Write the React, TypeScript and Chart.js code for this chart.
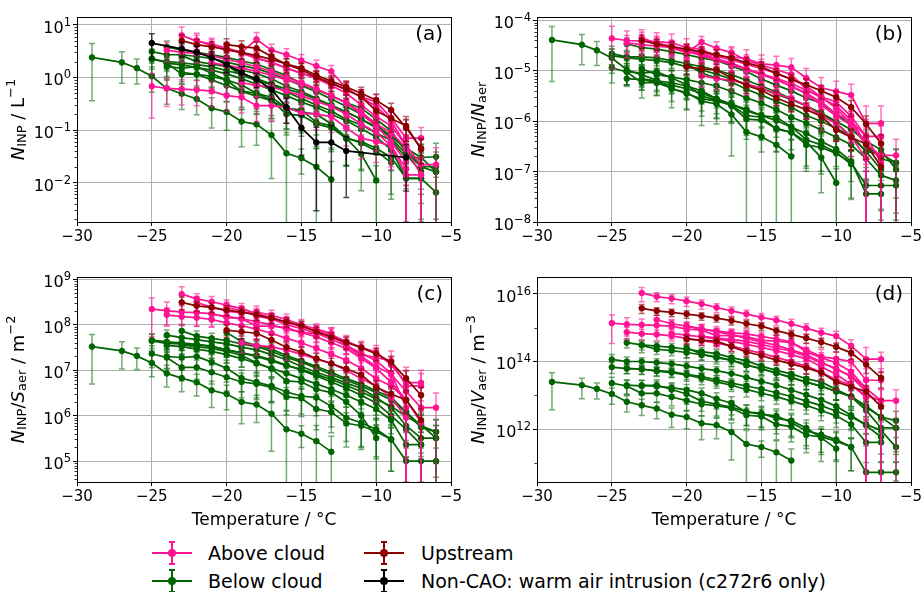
import React, { useEffect, useRef } from "react";
import { Chart, registerables } from "chart.js";
Chart.register(...registerables);

const FONT = "'DejaVu Sans', sans-serif";

// ---------------- axis ticks ----------------
const tempTicks = [-30, -25, -20, -15, -10, -5];
const majorsA = [1e-2, 1e-1, 1, 10];
const majorsB = [1e-8, 1e-7, 1e-6, 1e-5, 1e-4];
const majorsC = [1e5, 1e6, 1e7, 1e8, 1e9];
const majorsD = [1e12, 1e14, 1e16];

// ---------------- Below cloud flights ----------------
const G0start = -29;
const G0a = [2.4, null, 1.93, 1.5, 1.05, 0.62, 0.49, 0.39, 0.26, 0.22, 0.145, 0.128, 0.08, 0.036, 0.029, 0.02, 0.0115];
const G0b = [4.1e-5, null, 3.3e-5, 2.55e-5, 1.8e-5, 1.05e-5, 8.3e-6, 6.6e-6, 4.4e-6, 3.7e-6, 2.5e-6, 2.2e-6, 1.36e-6, 6.1e-7, 4.9e-7, 3.4e-7, 2.0e-7];
const G0c = [3.3e7, null, 2.65e7, 2.06e7, 1.44e7, 8.5e6, 6.7e6, 5.4e6, 3.6e6, 3.0e6, 2.0e6, 1.76e6, 1.1e6, 5e5, 4e5, 2.75e5, 1.6e5];
const G0d = [2.5e13, null, 2.0e13, 1.56e13, 1.1e13, 6.5e12, 5.1e12, 4.1e12, 2.7e12, 2.3e12, 1.5e12, 1.33e12, 8.3e11, 3.7e11, 3.0e11, 2.1e11, 1.2e11];
const G0err = [0.85, 0, 0.6, 0.5, 0.5, 0.5, 0.5, 0.5, 0.58, 0.55, 0.67, 0.6, 0.85, 1.5, 0.5, 1.2, 1.2];

const G1start = -23;
const G1a = [2.6, 2.0, 1.8, 1.6, 1.37, 1.19, 0.94, 0.68, 0.54, 0.4, 0.29, 0.22, 0.16, 0.115, 0.08, 0.043, 0.02, 0.016];
const G1b = [1.1e-5, 8.4e-6, 7.6e-6, 6.7e-6, 5.8e-6, 5e-6, 3.9e-6, 2.9e-6, 2.3e-6, 1.7e-6, 1.2e-6, 9.2e-7, 6.7e-7, 4.8e-7, 3.4e-7, 1.8e-7, 8.4e-8, 6.7e-8];
const G1c = [7.3e7, 5.6e7, 5.0e7, 4.5e7, 3.8e7, 3.3e7, 2.6e7, 1.9e7, 1.5e7, 1.1e7, 8e6, 6e6, 4.5e6, 3.2e6, 2.2e6, 1.2e6, 5.5e5, 4.4e5];
const G1d = [3.0e14, 2.3e14, 2.1e14, 1.84e14, 1.58e14, 1.37e14, 1.08e14, 7.8e13, 6.2e13, 4.6e13, 3.3e13, 2.5e13, 1.84e13, 1.3e13, 9.2e12, 4.9e12, 2.3e12, 1.8e12];
const G1err = [0.4, 0.3, 0.3, 0.3, 0.3, 0.3, 0.35, 0.35, 0.35, 0.35, 0.4, 0.4, 0.4, 0.45, 0.5, 0.6, 0.8, 0.9];

const G2start = -24;
const G2a = [3.8, 3.3, 3.0, 2.7, 2.4, 2.05, 1.8, 1.4, 1.09, 0.77, 0.58, 0.45, 0.33, 0.26, 0.16, 0.096, 0.038, 0.02, 0.02];
const G2b = [3.4e-5, 2.9e-5, 2.7e-5, 2.4e-5, 2.1e-5, 1.8e-5, 1.6e-5, 1.25e-5, 9.7e-6, 6.9e-6, 5.2e-6, 4e-6, 2.9e-6, 2.3e-6, 1.4e-6, 8.5e-7, 3.4e-7, 1.8e-7, 1.5e-7];
const G2c = [5.9e7, 5.2e7, 4.7e7, 4.2e7, 3.8e7, 3.2e7, 2.8e7, 2.2e7, 1.7e7, 1.2e7, 9e6, 7e6, 5.2e6, 4e6, 2.5e6, 1.5e6, 6e5, 3.2e5, 3.2e5];
const G2d = [3.6e14, 3.1e14, 2.85e14, 2.6e14, 2.3e14, 1.95e14, 1.7e14, 1.3e14, 1.04e14, 7.3e13, 5.5e13, 4.3e13, 3.1e13, 2.5e13, 1.5e13, 9.1e12, 3.6e12, 1.1e12, 1.1e12];
const G2err = [0.3, 0.3, 0.3, 0.3, 0.3, 0.3, 0.3, 0.35, 0.35, 0.35, 0.4, 0.4, 0.4, 0.45, 0.5, 0.6, 0.8, 0.9, 0.9];

const G3start = -25;
const G3a = [3.1, 2.7, 2.7, 2.5, 2.3, 1.96, 1.68, 1.47, 1.19, 0.91, 0.7, 0.53, 0.39, 0.28, 0.2, 0.13, 0.07, 0.035, 0.016];
const G3b = [2.2e-5, 1.9e-5, 1.9e-5, 1.8e-5, 1.6e-5, 1.4e-5, 1.2e-5, 1.04e-5, 8.4e-6, 6.5e-6, 5e-6, 3.8e-6, 2.8e-6, 2e-6, 1.4e-6, 9.2e-7, 5e-7, 2.5e-7, 1.1e-7];
const G3c = [4.4e7, 3.9e7, 3.8e7, 3.6e7, 3.3e7, 2.8e7, 2.4e7, 2.1e7, 1.7e7, 1.3e7, 1.0e7, 7.5e6, 5.5e6, 4e6, 2.8e6, 1.9e6, 1.0e6, 5e5, 2.3e5];
const G3d = [1.15e14, 1.0e14, 1.0e14, 9.3e13, 8.5e13, 7.3e13, 6.2e13, 5.4e13, 4.4e13, 3.4e13, 2.6e13, 2.0e13, 1.44e13, 1.04e13, 7.4e12, 4.8e12, 2.6e12, 1.3e12, 5.9e11];
const G3err = [0.4, 0.35, 0.3, 0.3, 0.3, 0.3, 0.3, 0.3, 0.35, 0.35, 0.35, 0.4, 0.4, 0.45, 0.5, 0.55, 0.6, 0.75, 0.9];

const G4start = -24;
const G4a = [1.85, 1.75, 1.54, 1.38, 1.17, 0.95, 0.74, 0.58, 0.45, 0.34, 0.27, 0.2, 0.15, 0.106, 0.074, 0.042, 0.012, 0.012];
const G4b = [7e-6, 6.7e-6, 5.9e-6, 5.2e-6, 4.4e-6, 3.6e-6, 2.8e-6, 2.2e-6, 1.7e-6, 1.3e-6, 1.03e-6, 7.6e-7, 5.7e-7, 4e-7, 2.8e-7, 1.6e-7, 3.6e-8, 3.6e-8];
const G4c = [3.5e7, 3.3e7, 2.9e7, 2.6e7, 2.2e7, 1.8e7, 1.4e7, 1.1e7, 8.5e6, 6.5e6, 5e6, 3.8e6, 2.8e6, 2e6, 1.4e6, 8e5, 2.3e5, 2.3e5];
const G4d = [6.3e13, 6e13, 5.2e13, 4.7e13, 4e13, 3.2e13, 2.5e13, 2e13, 1.5e13, 1.16e13, 9.2e12, 6.8e12, 5.1e12, 3.6e12, 2.5e12, 1.4e12, 4.1e11, 4.1e11];
const G4err = [0.3, 0.3, 0.3, 0.3, 0.35, 0.35, 0.35, 0.35, 0.4, 0.4, 0.4, 0.45, 0.45, 0.5, 0.55, 0.6, 0.85, 0.85];

const G5start = -25;
const G5a = [2.3, 1.9, 1.15, 1.15, 0.9, 0.7, 0.55, 0.5, 0.42, 0.26, 0.24, 0.14, 0.12, 0.068, 0.06, 0.045, 0.03, 0.012, 0.012, 0.0065];
const G5b = [1.15e-5, 9.5e-6, 5.8e-6, 5.8e-6, 4.5e-6, 3.5e-6, 2.8e-6, 2.5e-6, 2.1e-6, 1.3e-6, 1.2e-6, 7e-7, 6e-7, 3.4e-7, 3e-7, 2.3e-7, 1.5e-7, 5.3e-8, 5.3e-8, 5.3e-8];
const G5c = [2.3e7, 1.9e7, 1.15e7, 1.15e7, 9e6, 7e6, 5.5e6, 5e6, 4.2e6, 2.6e6, 2.4e6, 1.4e6, 1.2e6, 6.8e5, 6e5, 4.5e5, 3e5, 1e5, 1e5, 1e5];
const G5d = [2.3e13, 1.9e13, 1.15e13, 1.15e13, 9e12, 7e12, 5.5e12, 5e12, 4.2e12, 2.6e12, 2.4e12, 1.4e12, 1.2e12, 6.8e11, 6e11, 4.5e11, 3e11, 5.4e10, 5.4e10, 5.4e10];
const G5err = [0.5, 0.45, 0.5, 0.45, 0.45, 0.5, 0.55, 0.55, 0.55, 0.6, 0.6, 0.65, 0.65, 0.7, 0.7, 0.75, 0.8, 0.95, 0.95, 0.95];

const G6start = -20;
const G6a = [1.7, 1.1, 0.88, 0.73, 0.53, 0.4, 0.3, 0.23, 0.16, 0.125, 0.088, 0.063, 0.03, 0.03, 0.031];
const G6b = [1.4e-5, 9e-6, 7.2e-6, 6e-6, 4.3e-6, 3.3e-6, 2.5e-6, 1.9e-6, 1.3e-6, 1.0e-6, 7.2e-7, 5.2e-7, 2.5e-7, 2.2e-7, 1.5e-7];
const G6c = [6.7e7, 4.3e7, 3.5e7, 2.9e7, 2.1e7, 1.6e7, 1.2e7, 9e6, 6.5e6, 5e6, 3.5e6, 2.5e6, 1.2e6, 6e5, 4.4e5];
const G6d = [2.55e14, 1.65e14, 1.3e14, 1.1e14, 8e13, 6e13, 4.5e13, 3.5e13, 2.4e13, 1.9e13, 1.3e13, 9.5e12, 4.5e12, 2.3e12, 1.1e12];
const G6err = [0.5, 0.35, 0.35, 0.35, 0.35, 0.35, 0.4, 0.4, 0.4, 0.45, 0.45, 0.5, 0.6, 0.75, 0.8];

const G7start = -24;
const G7a = [1.6, 1.5, 1.6, 1.2, 0.88, 0.54, 0.44, 0.36, 0.26, 0.22, 0.2, 0.13, 0.072, 0.056, 0.04, 0.024];
const G7b = [9.6e-6, 9e-6, 9.6e-6, 7.2e-6, 5.3e-6, 3.2e-6, 2.6e-6, 2.2e-6, 1.6e-6, 1.3e-6, 1.2e-6, 7.8e-7, 4.3e-7, 3.4e-7, 2.4e-7, 1.4e-7];
const G7c = [2e7, 1.9e7, 2e7, 1.5e7, 1.1e7, 6.7e6, 5.5e6, 4.5e6, 3.3e6, 2.7e6, 2.5e6, 1.6e6, 9e5, 7e5, 5e5, 3e5];
const G7d = [2e13, 1.9e13, 2e13, 1.5e13, 1.1e13, 6.8e12, 5.5e12, 4.5e12, 3.3e12, 2.75e12, 2.5e12, 1.6e12, 9e11, 7e11, 5e11, 3e11];
const G7err = [0.45, 0.45, 0.45, 0.45, 0.5, 0.5, 0.55, 0.55, 0.6, 0.6, 0.6, 0.65, 0.7, 0.7, 0.75, 0.8];

const G8start = -23;
const G8a = [1.25, 1.15, 1.05, 0.9, 0.72, 0.5, 0.37, 0.2, 0.19, 0.13, 0.11, 0.07, 0.035, 0.011];
const G8b = [6.9e-6, 6.3e-6, 5.8e-6, 5e-6, 4e-6, 2.8e-6, 2e-6, 1.1e-6, 1.05e-6, 7.2e-7, 6e-7, 3.9e-7, 1.9e-7, 6e-8];
const G8c = [3.6e7, 3.3e7, 3.0e7, 2.6e7, 2.1e7, 1.45e7, 1.07e7, 5.8e6, 5.5e6, 3.8e6, 3.2e6, 2e6, 1e6, 3.2e5];
const G8d = [2e13, 1.85e13, 1.7e13, 1.45e13, 1.15e13, 8e12, 5.9e12, 3.2e12, 3e12, 2.1e12, 1.8e12, 1.1e12, 5.6e11, 2.7e11];
const G8err = [0.4, 0.4, 0.4, 0.45, 0.45, 0.5, 0.55, 0.6, 0.6, 0.65, 0.65, 0.7, 0.8, 0.9];

const G9start = -25;
const G9a = [2.2, 2.0, 1.9, 1.75, 1.6, 1.35, 1.15, 0.95, 0.75, 0.6, 0.5, 0.38, 0.3, 0.22, 0.16, 0.11, 0.075, 0.045, 0.03, 0.016];
const G9b = [2e-5, 1.8e-5, 1.7e-5, 1.6e-5, 1.45e-5, 1.2e-5, 1.04e-5, 8.6e-6, 6.8e-6, 5.4e-6, 4.5e-6, 3.4e-6, 2.7e-6, 2e-6, 1.45e-6, 1e-6, 6.8e-7, 4e-7, 2.7e-7, 1.1e-7];
const G9c = [4.6e7, 4.2e7, 4.0e7, 3.7e7, 3.4e7, 2.8e7, 2.4e7, 2.0e7, 1.6e7, 1.26e7, 1.05e7, 8e6, 6.3e6, 4.6e6, 3.4e6, 2.3e6, 1.6e6, 9.5e5, 6.3e5, 3.2e5];
const G9d = [6.8e13, 6.2e13, 5.9e13, 5.4e13, 5e13, 4.2e13, 3.6e13, 2.9e13, 2.3e13, 1.9e13, 1.55e13, 1.2e13, 9.3e12, 6.8e12, 5e12, 3.4e12, 2.3e12, 1.4e12, 9.3e11, 3e11];
const G9err = [0.35, 0.3, 0.3, 0.3, 0.3, 0.3, 0.3, 0.35, 0.35, 0.35, 0.4, 0.4, 0.4, 0.45, 0.5, 0.55, 0.6, 0.7, 0.8, 0.9];

// ---------------- Above cloud flights ----------------
const P1start = -23;
const P1a = [6.3, 4.9, 4.3, 3.6, 3.0, 2.35, 1.9, 1.5, 1.2, 1.0, 0.78, 0.58, 0.43, 0.34, 0.17, 0.07, 0.07];
const P1b = [4.5e-5, 3.5e-5, 3.1e-5, 2.6e-5, 2.15e-5, 1.7e-5, 1.33e-5, 1.08e-5, 8.6e-6, 7.1e-6, 5.6e-6, 4.1e-6, 3.05e-6, 2.4e-6, 1.25e-6, 5e-7, 5e-7];
const P1c = [4.7e8, 3.7e8, 3.2e8, 2.7e8, 2.25e8, 1.75e8, 1.4e8, 1.13e8, 9e7, 7.4e7, 5.9e7, 4.3e7, 3.2e7, 2.5e7, 1.3e7, 5.3e6, 5.3e6];
const P1d = [1.05e16, 8.2e15, 7.2e15, 6.0e15, 5.0e15, 3.9e15, 3.1e15, 2.5e15, 2.0e15, 1.65e15, 1.3e15, 9.6e14, 7.1e14, 5.6e14, 2.9e14, 1.17e14, 1.17e14];
const P1err = [0.45, 0.3, 0.3, 0.3, 0.3, 0.3, 0.3, 0.3, 0.3, 0.3, 0.35, 0.35, 0.35, 0.4, 0.5, 1.2, 0.6];

const P2start = -25;
const P2a = [0.68, 0.62, 0.6, 0.58, 0.55, 0.45, 0.42, 0.29, 0.29, 0.27, 0.21, 0.2, 0.18, 0.11, 0.07, 0.06, 0.05, 0.014, 0.014];
const P2b = [4.4e-5, 4.0e-5, 3.9e-5, 3.8e-5, 3.6e-5, 2.9e-5, 2.7e-5, 1.9e-5, 1.9e-5, 1.75e-5, 1.37e-5, 1.3e-5, 1.17e-5, 7.2e-6, 4.6e-6, 3.9e-6, 3.3e-6, 9.1e-7, 9.1e-7];
const P2c = [2.2e8, 2.05e8, 1.9e8, 1.85e8, 1.75e8, 1.45e8, 1.35e8, 9.3e7, 9.3e7, 8.6e7, 6.7e7, 6.4e7, 5.8e7, 3.5e7, 2.2e7, 1.9e7, 1.6e7, 4.5e6, 4.5e6];
const P2d = [1.35e15, 1.25e15, 1.2e15, 1.16e15, 1.1e15, 9e14, 8.4e14, 5.8e14, 5.8e14, 5.4e14, 4.2e14, 4e14, 3.6e14, 2.2e14, 1.4e14, 1.2e14, 1e14, 2.8e13, 2.8e13];
const P2err = [0.75, 0.55, 0.5, 0.5, 0.5, 0.5, 0.5, 0.5, 0.5, 0.5, 0.5, 0.5, 0.5, 0.55, 0.6, 0.6, 0.65, 1.2, 1.2];

const P3start = -22;
const P3a = [5.1, 4.0, 3.3, 3.0, 5.3, 3.3, 2.7, 2.1, 1.65, 1.3, 0.62, 0.42, 0.28, 0.15, 0.05];
const P3b = [3.6e-5, 2.8e-5, 2.3e-5, 3.7e-5, 2.8e-5, 2.3e-5, 1.6e-5, 1.3e-5, 1.05e-5, 8.5e-6, 4.3e-6, 2.9e-6, 2e-6, 1.05e-6, 3.5e-7];
const P3c = [3.1e8, 2.4e8, 2.0e8, 1.8e8, 1.9e8, 1.6e8, 1.3e8, 1.0e8, 8e7, 6.5e7, 3.5e7, 2.4e7, 1.6e7, 8.5e6, 1.5e6];
const P3d = [1.7e15, 1.3e15, 1.1e15, 9e14, 8e14, 7e14, 6.5e14, 5.5e14, 4.6e14, 3.8e14, 1.9e14, 1.3e14, 9e13, 5e13, 1.6e13];
const P3err = [0.35, 0.3, 0.3, 0.3, 0.35, 0.3, 0.3, 0.3, 0.3, 0.3, 0.35, 0.4, 0.45, 0.5, 1.1];

const P4start = -20;
const P4a = [3.5, 2.9, 2.3, 1.95, 1.5, 1.2, 0.95, 0.7, 0.5, 0.3, 0.18, 0.12, 0.05, 0.022, 0.022];
const P4b = [2.45e-5, 2.0e-5, 1.6e-5, 1.37e-5, 1.05e-5, 8.4e-6, 6.7e-6, 4.9e-6, 3.5e-6, 2.1e-6, 1.26e-6, 8.4e-7, 3.5e-7, 2.1e-7, 2.1e-7];
const P4c = [2.4e8, 2.0e8, 1.55e8, 1.33e8, 1.0e8, 8.2e7, 6.5e7, 4.8e7, 3.4e7, 2e7, 1.2e7, 8.2e6, 3.4e6, 1.5e6, 1.5e6];
const P4d = [1.1e15, 9.3e14, 7.4e14, 6.2e14, 4.8e14, 3.8e14, 3e14, 2.2e14, 1.6e14, 9.6e13, 5.8e13, 3.8e13, 1.6e13, 7e12, 7e12];
const P4err = [0.3, 0.3, 0.3, 0.3, 0.3, 0.3, 0.35, 0.35, 0.35, 0.4, 0.45, 0.5, 0.6, 1.1, 1.1];

const P5start = -24;
const P5a = [3.3, 3.0, 2.85, 2.6, 2.2, 1.9, 1.6, 1.3, 1.0, 0.8, 0.6, 0.45, 0.33, 0.22, 0.13, 0.09, 0.045, 0.014];
const P5b = [3.6e-5, 3.3e-5, 3.1e-5, 2.9e-5, 2.4e-5, 2.1e-5, 1.76e-5, 1.43e-5, 1.1e-5, 8.8e-6, 6.6e-6, 5e-6, 3.6e-6, 2.4e-6, 1.4e-6, 1e-6, 5e-7, 1.5e-7];
const P5c = [1.65e8, 1.5e8, 1.43e8, 1.3e8, 1.1e8, 9.5e7, 8e7, 6.5e7, 5e7, 4e7, 3e7, 2.25e7, 1.65e7, 1.1e7, 6.5e6, 4.5e6, 2.25e6, 7e5];
const P5d = [7.3e14, 6.6e14, 6.3e14, 5.7e14, 4.8e14, 4.2e14, 3.5e14, 2.9e14, 2.2e14, 1.76e14, 1.32e14, 9.9e13, 7.3e13, 4.8e13, 2.9e13, 2e13, 9.9e12, 7e12];
const P5err = [0.4, 0.35, 0.35, 0.3, 0.3, 0.3, 0.3, 0.3, 0.3, 0.35, 0.35, 0.4, 0.4, 0.45, 0.5, 0.6, 0.8, 1.2];

const P6start = -21;
const P6a = [1.9, 1.7, 1.5, 1.3, 1.1, 0.9, 0.75, 0.6, 0.45, 0.33, 0.2, 0.12, 0.06, 0.025];
const P6b = [2.85e-5, 2.55e-5, 2.25e-5, 1.95e-5, 1.65e-5, 1.35e-5, 1.1e-5, 9e-6, 6.8e-6, 5e-6, 3e-6, 1.8e-6, 9e-7, 3.8e-7];
const P6c = [1.7e8, 1.53e8, 1.35e8, 1.17e8, 9.9e7, 8.1e7, 6.8e7, 5.4e7, 4e7, 3e7, 1.8e7, 1.1e7, 5.4e6, 2.25e6];
const P6d = [6.7e14, 6e14, 5.3e14, 4.6e14, 3.9e14, 3.2e14, 2.6e14, 2.1e14, 1.6e14, 1.2e14, 7e13, 4.2e13, 2.1e13, 8.8e12];
const P6err = [0.3, 0.3, 0.3, 0.3, 0.3, 0.3, 0.35, 0.35, 0.35, 0.4, 0.45, 0.5, 0.6, 1.1];

const P7start = -19;
const P7a = [0.8, 0.7, 0.65, 0.55, 0.45, 0.35, 0.28, 0.2, 0.13, 0.09, 0.05, 0.018];
const P7b = [8e-6, 7e-6, 6.5e-6, 5.5e-6, 4.5e-6, 3.5e-6, 2.8e-6, 2e-6, 1.3e-6, 9e-7, 5e-7, 1.8e-7];
const P7c = [4e7, 3.5e7, 3.25e7, 2.75e7, 2.25e7, 1.75e7, 1.4e7, 1e7, 6.5e6, 4.5e6, 2.5e6, 9e5];
const P7d = [5.6e14, 4.9e14, 4.5e14, 3.9e14, 3.2e14, 2.5e14, 2e14, 1.4e14, 9e13, 6.3e13, 3.5e13, 1.3e13];
const P7err = [0.4, 0.4, 0.4, 0.4, 0.4, 0.4, 0.45, 0.45, 0.5, 0.55, 0.6, 1.2];

// ---------------- Upstream flights ----------------
const U1start = -23;
const U1a = [5.0, 4.2, 3.8, 3.4, 3.0, 2.6, 2.2, 1.8, 1.5, 1.1, 0.85, 0.66, 0.5, 0.37, 0.24, 0.11, 0.045];
const U1b = [4.0e-5, 3.4e-5, 3.0e-5, 2.7e-5, 2.4e-5, 2.1e-5, 1.8e-5, 1.44e-5, 1.2e-5, 8.8e-6, 6.8e-6, 5.3e-6, 4e-6, 3e-6, 1.9e-6, 8.8e-7, 3.6e-7];
const U1c = [3.1e8, 2.6e8, 2.4e8, 2.1e8, 1.9e8, 1.65e8, 1.4e8, 1.15e8, 9.5e7, 7e7, 5.3e7, 4.1e7, 3.1e7, 2.3e7, 1.5e7, 6.6e6, 2.8e6];
const U1d = [3.7e15, 3.1e15, 2.8e15, 2.5e15, 2.2e15, 1.9e15, 1.6e15, 1.3e15, 1.1e15, 8.1e14, 6.3e14, 4.9e14, 3.7e14, 2.7e14, 1.8e14, 8.1e13, 3.3e13];
const U1err = [0.3, 0.25, 0.25, 0.25, 0.25, 0.25, 0.25, 0.25, 0.25, 0.25, 0.25, 0.3, 0.3, 0.3, 0.35, 0.45, 0.5];

const U2start = -20;
const U2a = [4.2, 3.85, 3.6, 2.5, 1.76, 1.4, 1.0, 0.77, 0.59, 0.43, 0.23, 0.165, 0.12, 0.043];
const U2b = [1.2e-5, 1.1e-5, 1.04e-5, 7.2e-6, 5.1e-6, 4.1e-6, 2.9e-6, 2.2e-6, 1.7e-6, 1.25e-6, 6.7e-7, 4.8e-7, 3.5e-7, 1.25e-7];
const U2c = [7.6e7, 7e7, 6.5e7, 4.6e7, 3.2e7, 2.5e7, 1.8e7, 1.4e7, 1.07e7, 7.9e6, 4.2e6, 3.0e6, 2.2e6, 7.9e5];
const U2d = [4.6e14, 4.2e14, 4.0e14, 2.75e14, 1.9e14, 1.5e14, 1.1e14, 8.5e13, 6.5e13, 4.7e13, 2.5e13, 1.8e13, 1.3e13, 4.7e12];
const U2err = [0.3, 0.3, 0.3, 0.3, 0.3, 0.3, 0.3, 0.3, 0.35, 0.35, 0.4, 0.45, 0.5, 0.6];

// ---------------- Non-CAO (c272r6), panel (a) only ----------------
const K1start = -25;
const K1a = [4.5, null, 3.5, 3.0, 2.4, 1.76, 1.23, 0.92, 0.59, 0.27, 0.11, 0.058, 0.058, 0.04, null, null, null, 0.03];
const K1err = [0.5, 0, 0.3, 0.3, 0.3, 0.3, 0.3, 0.3, 0.35, 0.5, 0.7, 0.95, 1.1, 0.87, 0, 0, 0, 0.77];

// ---------------- styling ----------------
const COLORS: Record<string, string> = {
  above: "#ff1493",
  below: "#006400",
  upstream: "#8b0000",
  noncao: "#000000",
};
const ERR_COLORS: Record<string, string> = {
  above: "rgba(255,20,147,0.6)",
  below: "rgba(0,100,0,0.55)",
  upstream: "rgba(139,0,0,0.6)",
  noncao: "rgba(0,0,0,0.7)",
};

type Flight = {
  cat: string;
  start: number;
  a: (number | null)[] | null;
  b: (number | null)[] | null;
  c: (number | null)[] | null;
  d: (number | null)[] | null;
  err: number[];
};

// order: first entries are drawn on top
const flights: Flight[] = [
  { cat: "noncao", start: K1start, a: K1a, b: null, c: null, d: null, err: K1err },
  { cat: "upstream", start: U1start, a: U1a, b: U1b, c: U1c, d: U1d, err: U1err },
  { cat: "upstream", start: U2start, a: U2a, b: U2b, c: U2c, d: U2d, err: U2err },
  { cat: "above", start: P1start, a: P1a, b: P1b, c: P1c, d: P1d, err: P1err },
  { cat: "above", start: P2start, a: P2a, b: P2b, c: P2c, d: P2d, err: P2err },
  { cat: "above", start: P3start, a: P3a, b: P3b, c: P3c, d: P3d, err: P3err },
  { cat: "above", start: P4start, a: P4a, b: P4b, c: P4c, d: P4d, err: P4err },
  { cat: "above", start: P5start, a: P5a, b: P5b, c: P5c, d: P5d, err: P5err },
  { cat: "above", start: P6start, a: P6a, b: P6b, c: P6c, d: P6d, err: P6err },
  { cat: "above", start: P7start, a: P7a, b: P7b, c: P7c, d: P7d, err: P7err },
  { cat: "below", start: G0start, a: G0a, b: G0b, c: G0c, d: G0d, err: G0err },
  { cat: "below", start: G1start, a: G1a, b: G1b, c: G1c, d: G1d, err: G1err },
  { cat: "below", start: G2start, a: G2a, b: G2b, c: G2c, d: G2d, err: G2err },
  { cat: "below", start: G3start, a: G3a, b: G3b, c: G3c, d: G3d, err: G3err },
  { cat: "below", start: G4start, a: G4a, b: G4b, c: G4c, d: G4d, err: G4err },
  { cat: "below", start: G5start, a: G5a, b: G5b, c: G5c, d: G5d, err: G5err },
  { cat: "below", start: G6start, a: G6a, b: G6b, c: G6c, d: G6d, err: G6err },
  { cat: "below", start: G7start, a: G7a, b: G7b, c: G7c, d: G7d, err: G7err },
  { cat: "below", start: G8start, a: G8a, b: G8b, c: G8c, d: G8d, err: G8err },
  { cat: "below", start: G9start, a: G9a, b: G9b, c: G9c, d: G9d, err: G9err },
];

type Seg = [string, string];
type PanelCfg = {
  key: "a" | "b" | "c" | "d";
  label: string;
  left: number;
  top: number;
  width: number;
  height: number;
  yMin: number;
  yMax: number;
  majors: number[];
  minorSubs: boolean;
  title: Seg[];
  xTitle: boolean;
};

const panels: PanelCfg[] = [
  {
    key: "a", label: "(a)", left: 0, top: 0, width: 464, height: 250,
    yMin: 1.78e-3, yMax: 14.1, majors: majorsA, minorSubs: true,
    title: [["i", "N"], ["sub", "INP"], ["n", " / L"], ["sup", "\u22121"]], xTitle: false,
  },
  {
    key: "b", label: "(b)", left: 460, top: 0, width: 464, height: 250,
    yMin: 1e-8, yMax: 1.17e-4, majors: majorsB, minorSubs: true,
    title: [["i", "N"], ["sub", "INP"], ["n", "/"], ["i", "N"], ["sub", "aer"]], xTitle: false,
  },
  {
    key: "c", label: "(c)", left: 0, top: 260, width: 464, height: 272,
    yMin: 3.47e4, yMax: 1.12e9, majors: majorsC, minorSubs: true,
    title: [["i", "N"], ["sub", "INP"], ["n", "/"], ["i", "S"], ["sub", "aer"], ["n", " / m"], ["sup", "\u22122"]], xTitle: true,
  },
  {
    key: "d", label: "(d)", left: 460, top: 260, width: 464, height: 272,
    yMin: 2.8e10, yMax: 3.1e16, majors: majorsD, minorSubs: false,
    title: [["i", "N"], ["sub", "INP"], ["n", "/"], ["i", "V"], ["sub", "aer"], ["n", " / m"], ["sup", "\u22123"]], xTitle: true,
  },
];

const AREA_LEFT = 77;
const AREA_RIGHT = 451;
const AREA_TOP = 17;
const AREA_BOTTOM = 222;

function minusFmt(v: number): string {
  return v < 0 ? "\u2212" + Math.abs(v) : String(v);
}

function makeDecor(p: PanelCfg) {
  return {
    id: "decor_" + p.key,
    beforeDatasetDraw(chart: any, args: any) {
      const ds: any = chart.data.datasets[args.index];
      const { ctx, chartArea } = chart;
      const xs = chart.scales.x;
      const ys = chart.scales.y;
      ctx.save();
      ctx.beginPath();
      ctx.rect(chartArea.left, chartArea.top, chartArea.right - chartArea.left, chartArea.bottom - chartArea.top);
      ctx.clip();
      ctx.strokeStyle = ds.errColor;
      ctx.lineWidth = 1.5;
      ds.data.forEach((pt: any, i: number) => {
        if (pt.y == null) return;
        const e = ds.errs[i];
        if (!e) return;
        const x = xs.getPixelForValue(pt.x);
        const hi = pt.y * (1 + e);
        const lo = pt.y * (1 - e);
        const yHi = ys.getPixelForValue(hi);
        const yLo = lo > 0 ? ys.getPixelForValue(lo) : chartArea.bottom + 10;
        ctx.beginPath();
        ctx.moveTo(x, yHi);
        ctx.lineTo(x, yLo);
        ctx.moveTo(x - 3, yHi);
        ctx.lineTo(x + 3, yHi);
        if (lo > 0) {
          ctx.moveTo(x - 3, yLo);
          ctx.lineTo(x + 3, yLo);
        }
        ctx.stroke();
      });
      ctx.restore();
    },
    afterDraw(chart: any) {
      const { ctx, chartArea } = chart;
      const ys = chart.scales.y;
      const L = chartArea.left, R = chartArea.right, T = chartArea.top, B = chartArea.bottom;
      ctx.save();
      // minor ticks
      ctx.strokeStyle = "#000";
      ctx.lineWidth = 0.8;
      const n0 = Math.floor(Math.log10(p.yMin));
      const n1 = Math.ceil(Math.log10(p.yMax));
      ctx.beginPath();
      for (let n = n0; n <= n1; n++) {
        const subs = p.minorSubs ? [2, 3, 4, 5, 6, 7, 8, 9] : (n % 2 !== 0 ? [1] : []);
        for (const k of subs) {
          const v = k * Math.pow(10, n);
          if (v <= p.yMin || v >= p.yMax) continue;
          const y = Math.round(ys.getPixelForValue(v)) + 0.5;
          ctx.moveTo(L - 2.5, y);
          ctx.lineTo(L, y);
        }
      }
      ctx.stroke();
      // frame
      ctx.strokeStyle = "#000";
      ctx.lineWidth = 1;
      ctx.strokeRect(Math.round(L) + 0.5, Math.round(T) + 0.5, Math.round(R - L), Math.round(B - T));
      // y tick labels (10^n)
      ctx.fillStyle = "#000";
      ctx.textBaseline = "alphabetic";
      for (const v of p.majors) {
        const n = Math.round(Math.log10(v));
        const y = ys.getPixelForValue(v);
        const expStr = minusFmt(n);
        ctx.font = `11.5px ${FONT}`;
        const ew = ctx.measureText(expStr).width;
        ctx.font = `16px ${FONT}`;
        const bw = ctx.measureText("10").width;
        const xr = L - 6;
        ctx.textAlign = "left";
        ctx.fillText("10", xr - ew - bw, y + 8);
        ctx.font = `11.5px ${FONT}`;
        ctx.fillText(expStr, xr - ew, y + 1);
      }
      // y title
      const F = 18;
      const fonts: Record<string, string> = {
        n: `${F}px ${FONT}`,
        i: `italic ${F}px ${FONT}`,
        sub: `${Math.round(F * 0.7)}px ${FONT}`,
        sup: `${Math.round(F * 0.7)}px ${FONT}`,
      };
      const shift: Record<string, number> = { n: 0, i: 0, sub: 0.22 * F, sup: -0.4 * F };
      let total = 0;
      for (const [k, s] of p.title) {
        ctx.font = fonts[k];
        total += ctx.measureText(s).width;
      }
      ctx.translate(19, (T + B) / 2);
      ctx.rotate(-Math.PI / 2);
      ctx.textBaseline = "middle";
      ctx.textAlign = "left";
      let x = -total / 2;
      for (const [k, s] of p.title) {
        ctx.font = fonts[k];
        ctx.fillText(s, x, shift[k]);
        x += ctx.measureText(s).width;
      }
      ctx.setTransform(1, 0, 0, 1, 0, 0);
      // panel label
      ctx.font = `20px ${FONT}`;
      ctx.textAlign = "right";
      ctx.textBaseline = "middle";
      ctx.fillText(p.label, R - 8, T + 18);
      ctx.restore();
    },
  };
}

function Panel({ p }: { p: PanelCfg }) {
  const ref = useRef<HTMLCanvasElement | null>(null);
  useEffect(() => {
    if (!ref.current) return;
    const datasets: any[] = [];
    flights.forEach((f) => {
      const vals = f[p.key];
      if (!vals) return;
      datasets.push({
        data: vals.map((v, i) => ({ x: f.start + i, y: v })),
        borderColor: COLORS[f.cat],
        backgroundColor: COLORS[f.cat],
        pointBackgroundColor: COLORS[f.cat],
        pointBorderColor: COLORS[f.cat],
        pointRadius: 2.8,
        pointBorderWidth: 1,
        borderWidth: 1.7,
        tension: 0,
        spanGaps: true,
        errColor: ERR_COLORS[f.cat],
        errs: f.err,
      });
    });
    const chart = new Chart(ref.current, {
      type: "line",
      data: { datasets },
      plugins: [makeDecor(p)],
      options: {
        animation: false,
        responsive: false,
        events: [],
        layout: { padding: { top: AREA_TOP, left: 0, right: p.width - AREA_RIGHT, bottom: 0 } },
        plugins: { legend: { display: false }, tooltip: { enabled: false } },
        scales: {
          x: {
            type: "linear",
            min: -30,
            max: -5,
            afterBuildTicks: (s: any) => {
              s.ticks = tempTicks.map((v) => ({ value: v }));
            },
            afterFit: (s: any) => {
              s.height = p.height - AREA_BOTTOM;
              s.paddingLeft = 0;
              s.paddingRight = 0;
            },
            border: { display: false },
            grid: { color: "#b0b0b0", lineWidth: 1, tickColor: "#000", tickLength: 4, drawTicks: true },
            ticks: {
              font: { size: 15, family: FONT },
              color: "#000",
              padding: 2,
              maxRotation: 0,
              autoSkip: false,
              callback: (v: any) => minusFmt(Number(v)),
            },
            title: {
              display: p.xTitle,
              text: "Temperature / \u00b0C",
              font: { size: 17, family: FONT },
              color: "#000",
              padding: { top: 0, bottom: 1 },
            },
          },
          y: {
            type: "logarithmic",
            min: p.yMin,
            max: p.yMax,
            afterBuildTicks: (s: any) => {
              s.ticks = p.majors.map((v) => ({ value: v }));
            },
            afterFit: (s: any) => {
              s.width = AREA_LEFT;
              s.paddingTop = 0;
              s.paddingBottom = 0;
            },
            border: { display: false },
            grid: { color: "#b0b0b0", lineWidth: 1, tickColor: "#000", tickLength: 4, drawTicks: true },
            ticks: { display: false },
          },
        },
      } as any,
    });
    return () => chart.destroy();
  }, []);
  return (
    <canvas
      ref={ref}
      width={p.width}
      height={p.height}
      style={{ position: "absolute", left: p.left, top: p.top, width: p.width, height: p.height }}
    />
  );
}

const legendItems = [
  { cat: "above", text: "Above cloud", mx: 151, tx: 208, cy: 553 },
  { cat: "upstream", text: "Upstream", mx: 363, tx: 421, cy: 553 },
  { cat: "below", text: "Below cloud", mx: 151, tx: 208, cy: 581 },
  { cat: "noncao", text: "Non-CAO: warm air intrusion (c272r6 only)", mx: 363, tx: 421, cy: 581 },
];

function LegendMarker({ color, left, top }: { color: string; left: number; top: number }) {
  return (
    <svg width={42} height={26} style={{ position: "absolute", left, top }}>
      <line x1={1} y1={13} x2={41} y2={13} stroke={color} strokeWidth={2.2} />
      <line x1={21} y1={2} x2={21} y2={24} stroke={color} strokeWidth={2} />
      <line x1={18} y1={2} x2={24} y2={2} stroke={color} strokeWidth={2} />
      <line x1={18} y1={24} x2={24} y2={24} stroke={color} strokeWidth={2} />
      <circle cx={21} cy={13} r={4} fill={color} />
    </svg>
  );
}

export default function App() {
  return (
    <div
      style={{
        position: "fixed",
        left: 0,
        top: 0,
        width: 924,
        height: 592,
        background: "#fff",
        overflow: "hidden",
        fontFamily: FONT,
      }}
    >
      {panels.map((p) => (
        <Panel key={p.key} p={p} />
      ))}
      {legendItems.map((it) => (
        <React.Fragment key={it.text}>
          <LegendMarker color={COLORS[it.cat]} left={it.mx} top={it.cy - 13} />
          <div
            style={{
              position: "absolute",
              left: it.tx,
              top: it.cy - 13,
              height: 26,
              lineHeight: "26px",
              fontSize: 19,
              color: "#000",
              whiteSpace: "nowrap",
            }}
          >
            {it.text}
          </div>
        </React.Fragment>
      ))}
    </div>
  );
}
